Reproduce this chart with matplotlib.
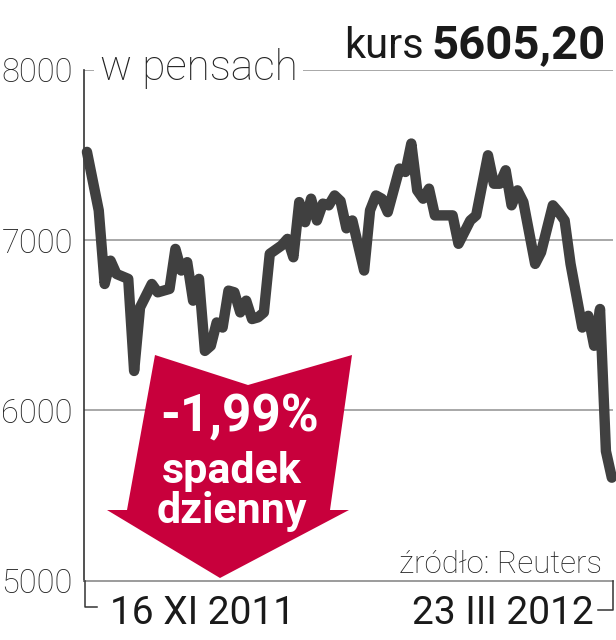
import matplotlib
matplotlib.use('Agg')
import matplotlib.pyplot as plt
from matplotlib.patches import Polygon
from matplotlib.lines import Line2D

plt.rcParams['font.family'] = ['Roboto', 'DejaVu Sans']

# notowania (dzień sesji od 16 XI 2011, kurs w pensach)
dzien = [0, 2, 3, 4, 5, 7, 8, 9, 11, 12, 14, 15, 16, 17, 18, 19, 20, 21, 22, 23,
         24, 25, 26, 27, 28, 29, 30, 31, 33, 34, 35, 36, 37, 38, 39, 40, 41, 42,
         43, 44, 45, 47, 48, 49, 50, 51, 53, 54, 55, 56, 57, 58, 59, 62, 63, 65,
         66, 68, 69, 70, 71, 72, 73, 74, 76, 77, 79, 80, 81, 82, 84, 85, 86, 87,
         88, 89]
kurs = [7519, 7175, 6743, 6880, 6802, 6773, 6232, 6605, 6743, 6694, 6714, 6949,
        6822, 6871, 6645, 6773, 6350, 6380, 6517, 6487, 6704, 6694, 6576, 6645,
        6537, 6547, 6576, 6920, 6969, 7008, 6900, 7224, 7106, 7244, 7116, 7215,
        7205, 7263, 7230, 7070, 7116, 6822, 7175, 7263, 7244, 7165, 7421, 7401,
        7568, 7293, 7244, 7303, 7146, 7146, 6979, 7116, 7146, 7499, 7332, 7332,
        7411, 7205, 7293, 7224, 6861, 6929, 7205, 7165, 7116, 6861, 6487, 6556,
        6380, 6596, 5761, 5605.2]

y_ticks = [5000, 6000, 7000, 8000]
y_labels = ['5000', '6000', '7000', '8000']
daty = ['16 XI 2011', '23 III 2012']

W, H = 616, 640
def fx(x): return x / W
def fy(y): return 1 - y / H

fig = plt.figure(figsize=(6.16, 6.4), dpi=100)
ax = fig.add_axes([fx(84), fy(580.7), fx(613 - 84), (580.7 - 70) / H])

for t in y_ticks[1:]:
    ax.axhline(t, color='#9a9a9a', lw=1.2, zorder=1)

ax.plot(dzien, kurs, color='#404040', lw=7.5, solid_joinstyle='round',
        solid_capstyle='round', clip_on=False, zorder=4)

ax.set_ylim(5000, 8000)
ax.set_xlim(-0.5, 89.2)
ax.set_xticks([])
ax.set_yticks(y_ticks)
ax.set_yticklabels(y_labels, fontsize=23.5, fontweight='light', color='#222222')
ax.tick_params(axis='y', length=0, pad=8)
for s in ['top', 'right']:
    ax.spines[s].set_visible(False)
ax.spines['left'].set_color('#333333')
ax.spines['left'].set_linewidth(1.2)
ax.spines['bottom'].set_color('#8a8a8a')
ax.spines['bottom'].set_linewidth(1.2)

# strzałka
strz = [(155, 355), (248, 385), (352, 355), (330, 510), (349, 510),
        (220, 578), (107, 510), (127, 510)]
ax.add_patch(Polygon([(fx(x), fy(y)) for x, y in strz], closed=True,
                     transform=fig.transFigure, facecolor='#c8003c',
                     edgecolor='none', clip_on=False, zorder=3))
fig.text(fx(240), fy(431), '-1,99%', color='white', fontsize=37,
         fontweight='bold', ha='center', va='baseline')
fig.text(fx(232), fy(483), 'spadek', color='white', fontsize=31,
         fontweight='bold', ha='center', va='baseline')
fig.text(fx(232), fy(523), 'dzienny', color='white', fontsize=31,
         fontweight='bold', ha='center', va='baseline')

# napisy
fig.text(fx(100), fy(80), 'w pensach', fontsize=30.5, fontweight='light',
         color='#222222', ha='left', va='baseline',
         bbox=dict(facecolor='white', edgecolor='none', pad=4), zorder=5)
fig.text(fx(606), fy(58), '5605,20', fontsize=34, fontweight='bold',
         color='#1a1a1a', ha='right', va='baseline')
fig.text(fx(424), fy(58), 'kurs', fontsize=30, color='#1a1a1a',
         ha='right', va='baseline')
fig.text(fx(602), fy(573), 'źródło: Reuters', fontsize=22.5, fontweight='light',
         color='#222222', ha='right', va='baseline')
fig.text(fx(110), fy(624), daty[0], fontsize=28, color='#1a1a1a',
         ha='left', va='baseline')
fig.text(fx(594), fy(624), daty[1], fontsize=28, color='#1a1a1a',
         ha='right', va='baseline')

# klamry osi czasu
for xs, ys in [([85, 85, 97], [581, 607, 607]), ([613, 613, 598], [581, 610, 610])]:
    fig.add_artist(Line2D([fx(x) for x in xs], [fy(y) for y in ys],
                          color='#333333', lw=1.1))

fig.savefig('out.png', dpi=100)
